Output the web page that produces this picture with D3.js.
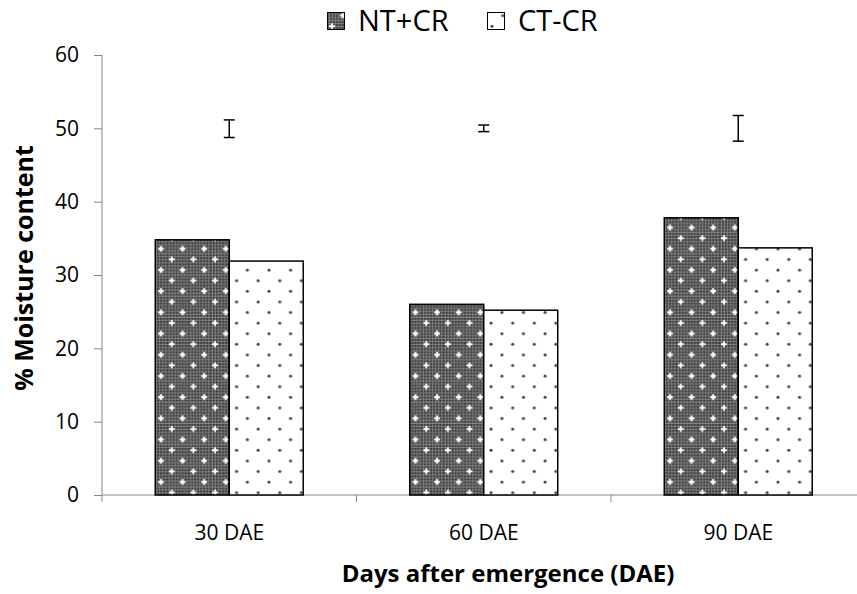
<!DOCTYPE html>
<html>
<head>
<meta charset="utf-8">
<script src="https://cdn.jsdelivr.net/npm/d3@7"></script>
<style>
  body { margin: 0; background: #ffffff; }
  text { font-family: "Open Sans", "Noto Sans", sans-serif; fill: #000000; }
</style>
</head>
<body>
<div id="chart"></div>
<script>
var categories = ["30 DAE", "60 DAE", "90 DAE"];
var seriesNames = ["NT+CR", "CT-CR"];
var ntcr = [34.8, 26.0, 37.8];
var ctcr = [31.9, 25.2, 33.7];
// error bars drawn above the groups (centre value and half-length)
var errCentre = [49.95, 50.0, 50.0];
var errHalf = [1.2, 0.45, 1.75];
var yTicks = [0, 10, 20, 30, 40, 50, 60];

var w = 857, h = 594;
var axisColor = "#868686";

var svg = d3.select("#chart").append("svg")
  .attr("width", w)
  .attr("height", h);

// patterns
var defs = svg.append("defs");

var fine = defs.append("pattern")
  .attr("id", "fine")
  .attr("patternUnits", "userSpaceOnUse")
  .attr("width", 3)
  .attr("height", 3);
fine.append("rect").attr("width", 3).attr("height", 3).attr("fill", "#8a8a8a");
fine.append("rect").attr("width", 2).attr("height", 2).attr("fill", "#333333");

var dense = defs.append("pattern")
  .attr("id", "dense")
  .attr("patternUnits", "userSpaceOnUse")
  .attr("width", 21.6)
  .attr("height", 21.2);
dense.append("rect")
  .attr("width", 21.6)
  .attr("height", 21.2)
  .attr("fill", "url(#fine)");
[[5, 5], [15.8, 15.6]].forEach(function(p) {
  dense.append("circle").attr("cx", p[0]).attr("cy", p[1]).attr("r", 1.8).attr("fill", "#ffffff");
  dense.append("rect").attr("x", p[0] - 3).attr("y", p[1] - 0.8).attr("width", 6).attr("height", 1.6).attr("fill", "#ffffff");
  dense.append("rect").attr("x", p[0] - 0.8).attr("y", p[1] - 3).attr("width", 1.6).attr("height", 6).attr("fill", "#ffffff");
});

var dots = defs.append("pattern")
  .attr("id", "dots")
  .attr("patternUnits", "userSpaceOnUse")
  .attr("width", 21.6)
  .attr("height", 21.2);
dots.append("rect").attr("width", 21.6).attr("height", 21.2).attr("fill", "#ffffff");
[[5, 5], [15.8, 15.6]].forEach(function(p) {
  dots.append("circle").attr("cx", p[0]).attr("cy", p[1]).attr("r", 1.5).attr("fill", "#404040");
});

var fills = ["url(#dense)", "url(#dots)"];

// scales
var x0 = d3.scaleBand()
  .domain(categories)
  .range([102, 865.5]);

var x1 = d3.scaleBand()
  .domain(seriesNames)
  .range([0, x0.bandwidth()])
  .paddingOuter(0.72);

var y = d3.scaleLinear()
  .domain([0, 60])
  .range([495, 55]);

// y axis
var yAxis = svg.append("g")
  .attr("transform", "translate(102,0)")
  .call(d3.axisLeft(y).tickValues(yTicks).tickSize(8).tickPadding(15));
yAxis.select(".domain").attr("stroke", axisColor).attr("d", "M0," + y(60) + "V" + y(0));
yAxis.selectAll(".tick line").attr("stroke", axisColor);
yAxis.selectAll(".tick text")
  .style("font-size", "21px")
  .style("font-family", "'Open Sans', sans-serif");

// x axis line + boundary ticks
svg.append("line")
  .attr("x1", 102).attr("x2", w)
  .attr("y1", y(0)).attr("y2", y(0))
  .attr("stroke", axisColor);

svg.selectAll(".xtick")
  .data(categories)
  .enter().append("line")
  .attr("class", "xtick")
  .attr("x1", function(d) { return x0(d); })
  .attr("x2", function(d) { return x0(d); })
  .attr("y1", y(0))
  .attr("y2", y(0) + 7)
  .attr("stroke", axisColor);

svg.selectAll(".xlabel")
  .data(categories)
  .enter().append("text")
  .attr("class", "xlabel")
  .attr("x", function(d) { return x0(d) + x0.bandwidth() / 2; })
  .attr("y", 540)
  .attr("text-anchor", "middle")
  .style("font-size", "21px")
  .text(function(d) { return d; });

// bars
var rows = categories.map(function(c, i) {
  return { cat: c, values: [ntcr[i], ctcr[i]] };
});

var group = svg.append("g")
  .selectAll("g")
  .data(rows)
  .enter().append("g")
  .attr("transform", function(d) { return "translate(" + x0(d.cat) + ",0)"; });

group.selectAll("rect")
  .data(function(d) {
    return d.values.map(function(v, j) { return { s: seriesNames[j], v: v, j: j }; });
  })
  .enter().append("rect")
  .attr("x", function(d) { return x1(d.s); })
  .attr("y", function(d) { return y(d.v); })
  .attr("width", x1.bandwidth())
  .attr("height", function(d) { return y(0) - y(d.v); })
  .attr("fill", function(d) { return fills[d.j]; })
  .attr("stroke", "#000000")
  .attr("stroke-width", 1.5);

// error bars
var eb = svg.append("g")
  .selectAll("g")
  .data(categories)
  .enter().append("g")
  .attr("stroke", "#000000")
  .attr("stroke-width", 1.5);

eb.append("line")
  .attr("x1", function(d) { return x0(d) + x0.bandwidth() / 2; })
  .attr("x2", function(d) { return x0(d) + x0.bandwidth() / 2; })
  .attr("y1", function(d, i) { return y(errCentre[i] + errHalf[i]); })
  .attr("y2", function(d, i) { return y(errCentre[i] - errHalf[i]); });
[1, -1].forEach(function(sgn) {
  eb.append("line")
    .attr("x1", function(d) { return x0(d) + x0.bandwidth() / 2 - 5.5; })
    .attr("x2", function(d) { return x0(d) + x0.bandwidth() / 2 + 5.5; })
    .attr("y1", function(d, i) { return y(errCentre[i] + sgn * errHalf[i]); })
    .attr("y2", function(d, i) { return y(errCentre[i] + sgn * errHalf[i]); });
});

// legend
var legendX = [327, 487];
var legend = svg.append("g")
  .selectAll("g")
  .data(seriesNames)
  .enter().append("g")
  .attr("transform", function(d, i) { return "translate(" + legendX[i] + ",0)"; });

legend.append("rect")
  .attr("x", 0.5).attr("y", 12.5)
  .attr("width", 17).attr("height", 17)
  .attr("fill", function(d, i) { return fills[i]; })
  .attr("stroke", "#000000")
  .attr("stroke-width", 1);

legend.append("text")
  .attr("x", 31)
  .attr("y", 31)
  .style("font-size", "29px")
  .text(function(d) { return d; });

// axis titles
svg.append("text")
  .attr("x", 508)
  .attr("y", 582)
  .attr("text-anchor", "middle")
  .style("font-size", "24px")
  .style("font-weight", "bold")
  .text("Days after emergence (DAE)");

svg.append("text")
  .attr("transform", "translate(33,268)rotate(-90)")
  .attr("text-anchor", "middle")
  .style("font-size", "25px")
  .style("font-weight", "bold")
  .text("% Moisture content");
</script>
</body>
</html>
